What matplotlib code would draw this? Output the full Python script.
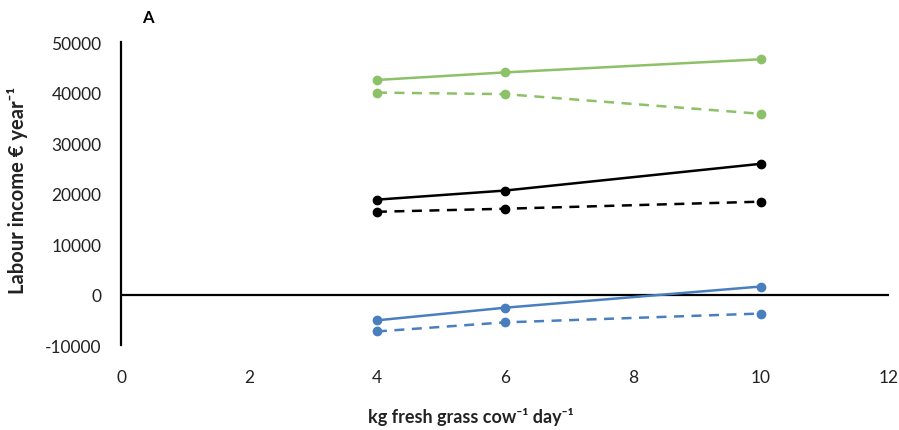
import matplotlib
matplotlib.use("Agg")
from matplotlib import pyplot as plt

plt.rcParams['font.family'] = ['Lato', 'DejaVu Sans']
plt.rcParams['axes.unicode_minus'] = False

# kg fresh grass per cow per day
grass = [4, 6, 10]

# labour income (euro per year) per scenario
green_solid = [42500, 44000, 46600]
green_dashed = [40000, 39700, 35800]
black_solid = [18800, 20600, 25900]
black_dashed = [16400, 17000, 18400]
blue_solid = [-5100, -2600, 1600]
blue_dashed = [-7300, -5500, -3750]

green = '#8cc167'
blue = '#4a7fbf'

fig = plt.figure(figsize=(8.99, 4.31), dpi=100)
ax = fig.add_axes([0.1346, 0.197, 0.854, 0.703])

series = [
    (green_solid, green, '-'),
    (green_dashed, green, '--'),
    (black_solid, 'black', '-'),
    (black_dashed, 'black', '--'),
    (blue_solid, blue, '-'),
    (blue_dashed, blue, '--'),
]
for vals, col, ls in series:
    line, = ax.plot(grass, vals, color=col, linewidth=1.8,
                    marker='o', markersize=6, zorder=3)
    if ls == '--':
        line.set_dashes((4, 3))

ax.axhline(0, color='black', linewidth=1.6, zorder=2)

ax.set_xlim(0, 12)
ax.set_ylim(-10000, 50000)
ax.set_xticks(range(0, 13, 2))
ax.set_yticks(range(-10000, 50001, 10000))

for s in ['top', 'right', 'bottom']:
    ax.spines[s].set_visible(False)
ax.spines['left'].set_linewidth(1.6)

ax.tick_params(axis='both', length=0, labelsize=12.5, colors='#222222')
ax.tick_params(axis='x', pad=17)
ax.tick_params(axis='y', pad=14)

# axis titles placed directly on the figure
fig.text(471 / 899, 1 - 417 / 431, 'kg fresh grass cow⁻¹ day⁻¹',
         fontsize=13, fontweight='bold', ha='center', va='center', color='#222222')
fig.text(18 / 899, 1 - 190 / 431, 'Labour income € year⁻¹', rotation=90,
         fontsize=14.5, fontweight='bold', ha='center', va='center', color='#222222')

fig.text(0.165, 0.958, 'A', fontsize=12, fontweight='bold', ha='center', va='center')

fig.savefig('out.png', dpi=100)
